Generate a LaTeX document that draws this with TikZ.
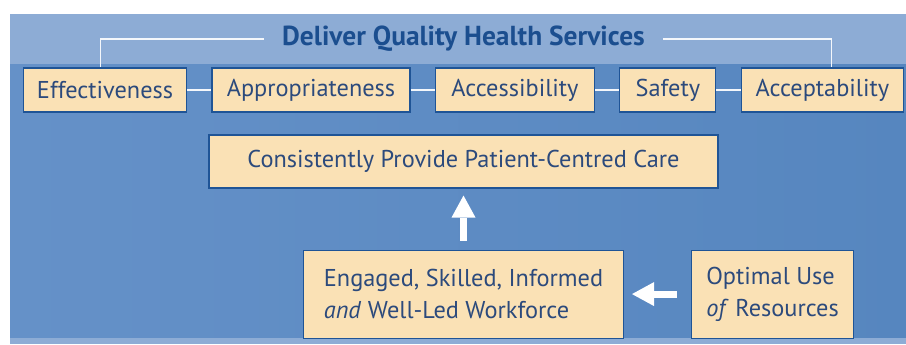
\documentclass[tikz,border=0pt]{standalone}
\usepackage{fontspec}
\setmainfont{PT Sans}
\usetikzlibrary{positioning,chains,arrows.meta}
\definecolor{bandblue}{RGB}{141,172,213}
\definecolor{panelleft}{RGB}{101,145,200}
\definecolor{panelright}{RGB}{86,134,191}
\definecolor{boxfill}{RGB}{250,225,181}
\definecolor{boxedge}{RGB}{31,84,150}
\definecolor{textnavy}{RGB}{44,74,124}
\definecolor{titleblue}{RGB}{27,78,143}
\tikzset{
    % Quality dimension boxes
    dimbox/.style={
        rectangle, draw=boxedge, line width=0.8pt, fill=boxfill,
        minimum height=33pt, inner xsep=2pt, inner ysep=0pt,
        text=textnavy, font=\fontsize{18.25}{24}\selectfont
    },
    % Outcome boxes
    outbox/.style={
        dimbox, align=left
    },
    % Thin white links
    link/.style={
        draw=white!90!bandblue, line width=1.1pt
    },
    % Fat white arrows
    fatarrow/.style={
        -{Triangle[width=18pt,length=16.5pt,line width=0pt]},
        draw=white, line width=5.25pt
    }
}

\begin{document}
\begin{tikzpicture}[x=0.75pt, y=-0.75pt]
\useasboundingbox (0,0) rectangle (906,344);

% Background bands
\fill[bandblue] (10,14) rectangle (906,344);
\shade[left color=panelleft, right color=panelright] (10,64) rectangle (906,337);

% Top row of quality dimensions
\begin{scope}[start chain=going right, node distance=18.3pt]
\node[dimbox, on chain, anchor=west, minimum width=122.25pt] (eff) at (23,90) {Effectiveness};
\node[dimbox, on chain, minimum width=148.5pt] (appr) {Appropriateness};
\node[dimbox, on chain, minimum width=119.25pt] (access) {Accessibility};
\node[dimbox, on chain, minimum width=72pt] (safety) {Safety};
\node[dimbox, on chain, minimum width=121.5pt] (accept) {Acceptability};
\end{scope}

\node[font=\bfseries\fontsize{20.6}{24}\selectfont, text=titleblue, inner xsep=13.5pt]
    (title) at (463.5,39) {Deliver Quality Health Services};

% Title brackets
\draw[link] (title.west) -| ([xshift=-3.4pt]eff.north);
\draw[link] (title.east) -| ([xshift=6.75pt]accept.north);
\foreach \a/\b in {eff/appr,appr/access,access/safety,safety/accept} {
    \draw[link] (\a) -- (\b);
}

% Outcome boxes
\node[dimbox, minimum width=381.75pt, minimum height=39.75pt] (care) at (463.5,161.5)
    {Consistently Provide Patient-Centred Care};
\node[outbox, minimum width=240pt, minimum height=66pt, below=45.75pt of care] (work)
    {Engaged, Skilled, Informed\\\textit{and} Well-Led Workforce};
\node[outbox, minimum width=121.5pt, minimum height=66pt, right=50.25pt of work] (optimal)
    {Optimal Use\\\textit{of} Resources};

% Arrows
\draw[fatarrow, shorten <=6.75pt, shorten >=5.25pt] (work) -- (care);
\draw[fatarrow, shorten <=10.5pt, shorten >=6pt] (optimal) -- (work);

\end{tikzpicture}
\end{document}
